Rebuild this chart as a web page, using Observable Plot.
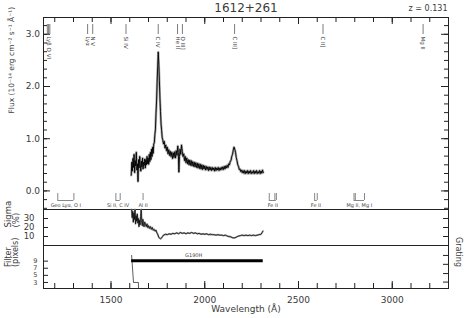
<!DOCTYPE html>
<html><head><meta charset="utf-8">
<script src="https://cdn.jsdelivr.net/npm/d3@7"></script>
<script src="https://cdn.jsdelivr.net/npm/@observablehq/plot@0.6"></script>
<style>
body{margin:0;background:#fff;}
#chart{position:relative;width:468px;height:318px;}
#chart svg{position:absolute;left:0;overflow:visible;background:transparent;}
</style></head><body><div id="chart"></div>
<script>
const objectName = "1612+261";
const redshift = 0.131;

// Flux spectrum (observed wavelength in Å, flux in 1e-14 erg/cm2/s/Å)
const wave = [1608,1611,1614,1617,1620,1623,1626,1629,1632,1635,1638,1641,1644,1647,1650,1653,1656,1659,1662,1665,1668,1671,1674,1677,1680,1683,1686,1689,1692,1695,1698,1701,1704,1707,1710,1713,1716,1719,1722,1725,1728,1731,1734,1737,1740,1743,1746,1749,1752,1755,1758,1761,1764,1767,1770,1773,
1776,1780,1784,1788,1792,1796,1800,1804,1808,1812,1816,1820,1824,1828,1832,1836,1840,1844,1848,1852,1856,1859,1862,1865,1868,1872,1876,1880,1884,1888,1892,1896,1900,1904,1908,1912,1916,1920,1924,1928,1932,1936,1940,1944,1948,1952,1956,1960,1964,1968,1972,1976,1980,1984,1988,1992,1996,2000,2004,2008,2012,2016,2020,2024,2028,2032,2036,2040,2044,2048,2052,2056,2060,2064,2068,2072,2076,2080,2084,2088,2092,2096,2100,2104,2108,2112,2116,2120,2124,2128,2132,2136,2140,2144,2148,2152,2156,2160,2164,2168,2172,2176,2180,2184,2188,2192,2196,2200,2204,2208,2212,2216,2220,2224,2228,2232,2236,2240,2244,2248,2252,2256,2260,2264,2268,2272,2276,2280,2284,2288,2292,2296,2300,2304,2308,2312];
const flux = [0.30,0.55,0.38,0.62,0.45,0.70,0.35,0.58,0.48,0.74,0.40,0.52,0.18,0.60,0.44,0.66,0.50,0.38,0.57,0.46,0.63,0.42,0.55,0.49,0.61,0.44,0.60,0.50,0.66,0.52,0.63,0.51,0.70,0.56,0.74,0.60,0.80,0.66,0.84,0.72,0.90,0.92,1.08,1.18,1.48,1.72,2.08,2.38,2.66,2.42,2.12,1.78,1.52,1.28,1.16,1.02,
0.98,0.90,0.95,0.82,0.88,0.77,0.84,0.71,0.79,0.68,0.76,0.66,0.74,0.62,0.73,0.64,0.75,0.63,0.77,0.68,0.86,0.74,0.36,0.66,0.80,0.70,0.88,0.76,0.66,0.71,0.58,0.66,0.54,0.63,0.52,0.60,0.50,0.59,0.49,0.58,0.48,0.56,0.47,0.55,0.46,0.54,0.45,0.53,0.44,0.52,0.43,0.51,0.42,0.50,0.41,0.49,0.42,0.48,0.40,0.47,0.41,0.46,0.39,0.46,0.40,0.45,0.39,0.45,0.40,0.44,0.38,0.45,0.39,0.44,0.40,0.45,0.39,0.44,0.40,0.45,0.41,0.46,0.41,0.47,0.42,0.48,0.44,0.49,0.45,0.52,0.50,0.57,0.58,0.66,0.70,0.78,0.84,0.80,0.74,0.64,0.58,0.50,0.47,0.41,0.42,0.37,0.40,0.35,0.39,0.34,0.39,0.33,0.38,0.34,0.39,0.33,0.38,0.34,0.39,0.33,0.37,0.34,0.39,0.33,0.38,0.34,0.39,0.33,0.37,0.34,0.39,0.33,0.38,0.34,0.40,0.35];

// Sigma (%)
const sigmaWave = [1610,1613,1616,1619,1622,1625,1628,1631,1634,1637,1640,1643,1646,1649,1652,1655,1658,1661,1664,1667,1670,1673,1676,1680,1684,1688,1692,1696,1700,1705,1710,1715,1720,1725,1730,1735,1740,1745,1750,1755,1760,1765,1770,1775,1780,1790,1800,1810,1820,1830,1840,1850,1860,1870,1880,1890,1900,1910,1920,1930,1940,1950,1960,1970,1980,1990,2000,2010,2020,2030,2040,2050,2060,2070,2080,2090,2100,2110,2120,2130,2140,2150,2160,2170,2180,2190,2200,2210,2220,2230,2240,2250,2260,2270,2280,2290,2300,2305,2310];
const sigma = [40,31,38,26,36,29,40,24,33,27,35,25,30,21,28,23,32,40,26,22,29,24,21,26,23,21,24,20,22,19,21,18,20,17,18,16,17,14,12,9,8,7.5,8.5,10,11.5,12.5,12,13,12.5,13.5,13,14,13,14.5,13.5,14,13,14,13.5,14.5,13.5,14,13,13.5,12.5,13,12.5,13,12,12.5,12,12,11.5,12,11.5,11.5,11,11.5,10.5,10,9.5,8.5,8.5,9.5,10.5,11,11.5,11,11.5,11,11.5,11,11.5,11,11.5,12,12.5,14,16];

// Filter width (pixels) and grating
const filterWave = [1610,1620,1646,1647];
const filterWidth = [10.6,3,3,1.3];
const gratingName = "G190H";
const gratingRange = [1610,2312];
const gratingLevel = 9.1;

// Emission line identifications (rest wavelengths, Å)
const emissionNames = ["Lyβ O VI","Lyα","N V","Si IV","C IV","He II","O III]","C III]","C II]","Mg II"];
const emissionLabelRest = [1032,1216,1240,1397,1549,1640,1663,1909,2326,2798];
const emissionTickRest = [1026,1032,1038,1216,1240,1397,1549,1640,1663,1909,2326,2798];

// Galactic absorption lines (observed, Å)
const absNames = ["Geo Lyα, O I","Si II, C IV","Al II","Fe II","Fe II","Mg II, Mg I"];
const absWaves = [[1216,1302],[1526,1549],[1671],[2344,2374,2382],[2586,2600],[2796,2803,2852]];

// Tick labels
const xTickLabels = [1500,2000,2500,3000];
const fluxTickLabels = [0,1,2,3];
const sigmaTickLabels = [10,20,30];
const filterTickLabels = [3,5,7,9];
const gratingTicks = [3.1,5.5,8.1,10.6];

// ---------- layout ----------
const W = 468, ML = 43, MR = 20, innerW = W - ML - MR;
const xDomain = [1140,3300];
const fluxDomain = [-0.356,3.322];
const sigmaDomain = [0,40];
const filterDomain = [1.3,13.4];
const txt = "#3a3a3a";
const font = "DejaVu Sans, sans-serif";
const chart = document.getElementById("chart");

const specData = wave.map((w,i)=>({w, f: flux[i]}));
const sigData = sigmaWave.map((w,i)=>({w, s: sigma[i]}));
const filtData = filterWave.map((w,i)=>({w, v: filterWidth[i]}));
const xMinor = d3.range(1200,3300,100);
const xMajor = xTickLabels;

function place(svg, top){ svg.style.top = top + "px"; chart.appendChild(svg); }

// ---------- Panel 1: flux ----------
const H1 = 192;
const fAt = px => fluxDomain[1] - px/H1*(fluxDomain[1]-fluxDomain[0]);
const fluxMinor = d3.range(-2,20).map(k=>k/6).filter(v=>v>fluxDomain[0] && v<fluxDomain[1]);
const emLabels = emissionNames.map((n,i)=>({n, x: emissionLabelRest[i]*(1+redshift)}));
const emTicks = emissionTickRest.map(r=>r*(1+redshift));
const absTicks = absWaves.flat();
const absGroups = absWaves.map((ws,i)=>({n: absNames[i], a: d3.min(ws), b: d3.max(ws), c: (d3.min(ws)+d3.max(ws))/2}));

const p1 = Plot.plot({
  width: W, height: 17 + H1 + 1, marginTop: 17, marginBottom: 1, marginLeft: ML, marginRight: MR,
  style: {background: "transparent", overflow: "visible", fontFamily: font},
  x: {domain: xDomain, axis: null},
  y: {domain: fluxDomain, axis: null},
  marks: [
    Plot.frame({stroke: "#222"}),
    Plot.tickX(xMinor, {x: d=>d, insetBottom: H1 - 5, stroke: "#222"}),
    Plot.tickX(xMajor, {x: d=>d, insetBottom: H1 - 7, stroke: "#222"}),
    Plot.tickY(fluxMinor, {y: d=>d, insetRight: innerW - 4, stroke: "#222"}),
    Plot.tickY(fluxTickLabels, {y: d=>d, insetRight: innerW - 7, stroke: "#222"}),
    Plot.tickY(fluxMinor, {y: d=>d, insetLeft: innerW - 4, stroke: "#222"}),
    Plot.tickY(fluxTickLabels, {y: d=>d, insetLeft: innerW - 7, stroke: "#222"}),
    Plot.text(fluxTickLabels, {y: d=>d, text: d=>d.toFixed(1), frameAnchor: "left", dx: -3.5, textAnchor: "end", fontSize: 9, fill: txt}),
    Plot.line(specData, {x: "w", y: "f", stroke: "#a8a8a8", strokeWidth: 2.4}),
    Plot.line(specData, {x: "w", y: "f", stroke: "#000", strokeWidth: 0.9}),
    Plot.tickX(emTicks, {x: d=>d, insetTop: 7, insetBottom: H1 - 17, stroke: "#444", strokeWidth: 0.7}),
    Plot.text(emLabels, {x: "x", text: "n", frameAnchor: "top", dy: 19, rotate: 90, textAnchor: "start", lineAnchor: "middle", fontSize: 5.5, fill: "#444"}),
    Plot.tickX(absTicks, {x: d=>d, insetTop: 176, insetBottom: 9, stroke: "#555", strokeWidth: 0.7}),
    Plot.ruleY(absGroups, {x1: "a", x2: "b", y: fAt(183), stroke: "#555", strokeWidth: 0.7}),
    Plot.text(absGroups, {x: "c", text: "n", frameAnchor: "bottom", dy: -4, lineAnchor: "middle", fontSize: 5, fill: "#444"}),
    Plot.text([objectName], {frameAnchor: "top", dy: -9.8, lineAnchor: "middle", fontSize: 12, fill: txt}),
    Plot.text(["z = " + redshift], {frameAnchor: "top-right", dy: -9.5, dx: -1, textAnchor: "end", lineAnchor: "middle", fontSize: 8, fill: txt}),
    Plot.text(["Flux (10⁻¹⁴ erg cm⁻² s⁻¹ Å⁻¹)"], {frameAnchor: "left", dx: -32, dy: 0, rotate: -90, lineAnchor: "middle", fontSize: 7.5, fill: txt})
  ]
});
place(p1, 0);

// ---------- Panel 2: sigma ----------
const H2 = 36;
const p2 = Plot.plot({
  width: W, height: H2, marginTop: 0, marginBottom: 0, marginLeft: ML, marginRight: MR,
  style: {background: "transparent", overflow: "visible", fontFamily: font},
  x: {domain: xDomain, axis: null},
  y: {domain: sigmaDomain, axis: null},
  marks: [
    Plot.frame({stroke: "#222"}),
    Plot.tickY(sigmaTickLabels, {y: d=>d, insetRight: innerW - 5, stroke: "#222"}),
    Plot.tickY(sigmaTickLabels, {y: d=>d, insetLeft: innerW - 5, stroke: "#222"}),
    Plot.text(sigmaTickLabels, {y: d=>d, text: d=>String(d), frameAnchor: "left", dx: -9, textAnchor: "end", fontSize: 8.5, fill: txt}),
    Plot.line(sigData, {x: "w", y: "s", stroke: "#9a9a9a", strokeWidth: 1.8}),
    Plot.line(sigData, {x: "w", y: "s", stroke: "#000", strokeWidth: 0.7}),
    Plot.text(["Sigma\n(%)"], {frameAnchor: "left", dx: -31.5, rotate: -90, lineAnchor: "middle", lineHeight: 0.95, fontSize: 8.5, fill: txt})
  ]
});
place(p2, 209);

// ---------- Panel 3: filter / grating ----------
const H3 = 43;
const p3 = Plot.plot({
  width: W, height: H3 + 30, marginTop: 0, marginBottom: 30, marginLeft: ML, marginRight: MR,
  style: {background: "transparent", overflow: "visible", fontFamily: font},
  x: {domain: xDomain, axis: null},
  y: {domain: filterDomain, axis: null},
  marks: [
    Plot.frame({stroke: "#222"}),
    Plot.tickX(xMinor, {x: d=>d, insetTop: H3 - 5, stroke: "#222"}),
    Plot.tickX(xMajor, {x: d=>d, insetTop: H3 - 7, stroke: "#222"}),
    Plot.tickY(filterTickLabels, {y: d=>d, insetRight: innerW - 5, stroke: "#222"}),
    Plot.tickY(gratingTicks, {y: d=>d, insetLeft: innerW - 5, stroke: "#222"}),
    Plot.text(filterTickLabels, {y: d=>d, text: d=>String(d), frameAnchor: "left", dx: -6, textAnchor: "end", lineAnchor: "middle", fontSize: 6.5, fill: txt}),
    Plot.line(filtData, {x: "w", y: "v", stroke: "#333", strokeWidth: 0.8}),
    Plot.ruleY([gratingLevel], {x1: gratingRange[0], x2: gratingRange[1], y: d=>d, stroke: "#000", strokeWidth: 3}),
    Plot.text([gratingName], {x: (gratingRange[0]+gratingRange[1])/2 - 20, y: gratingLevel, dy: -5, fontSize: 5, fill: "#444"}),
    Plot.text(xTickLabels, {x: d=>d, text: d=>String(d), frameAnchor: "bottom", dy: 12, lineAnchor: "middle", fontSize: 9, fill: txt}),
    Plot.text(["Wavelength (Å)"], {frameAnchor: "bottom", dy: 21, lineAnchor: "middle", fontSize: 9, fill: txt}),
    Plot.text(["Filter\n(pixels)"], {frameAnchor: "left", dx: -31.5, rotate: -90, lineAnchor: "middle", lineHeight: 0.95, fontSize: 8, fill: txt}),
    Plot.text(["Grating"], {frameAnchor: "right", dx: 10, rotate: 90, lineAnchor: "middle", fontSize: 8, fill: txt})
  ]
});
place(p3, 245);
</script></body></html>
